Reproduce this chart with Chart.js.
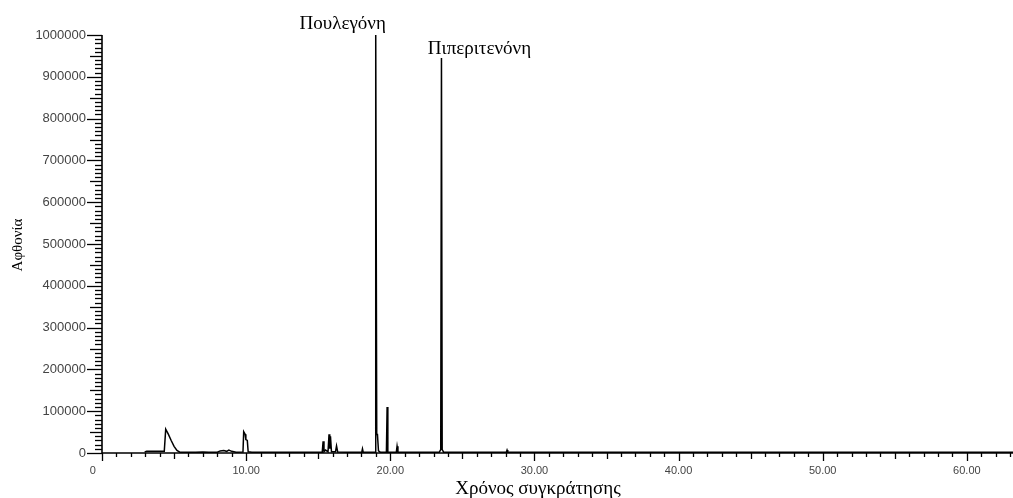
<!DOCTYPE html>
<html>
<head>
<meta charset="utf-8">
<script src="https://cdn.jsdelivr.net/npm/chart.js@4.4.0/dist/chart.umd.min.js"></script>
<style>
  html, body { margin: 0; padding: 0; background: #fff; }
  #wrap { width: 1013px; height: 498px; position: relative; }
</style>
</head>
<body>
<div id="wrap"><canvas id="c" width="1013" height="498"></canvas></div>
<script>
// Retention time (min) of each trace vertex
const times = [
  2.96, 3.1, 4.32, 4.35, 4.42, 4.6, 4.8, 5.0, 5.2, 5.4,
  6.5, 7.0, 7.4, 8.0, 8.2, 8.45, 8.65, 8.8, 9.0, 9.3,
  9.78, 9.83, 9.93, 9.98, 10.08, 10.14, 10.4,
  15.28, 15.34, 15.4, 15.5, 15.68, 15.75, 15.8, 15.85, 15.92,
  16.2, 16.27, 16.35, 17.0, 18.02, 18.07, 18.12,
  18.94, 18.99, 19.06, 19.11, 19.18, 19.3,
  19.73, 19.78, 19.83, 20.42, 20.47, 20.53,
  23.4, 23.5, 23.55, 23.6, 23.7,
  28.05, 28.1, 28.15, 63.2
];
// Abundance at each vertex
const abundance = [
  2500, 4000, 4000, 4000, 57000, 45000, 30000, 16000, 6000, 2000,
  1500, 2500, 1500, 2000, 5000, 6000, 4000, 7000, 4000, 2000,
  2500, 51000, 45000, 32000, 30000, 3000, 2000,
  2000, 28000, 3000, 7000, 3000, 45000, 10000, 40000, 3000,
  3000, 17000, 2500, 2000, 2000, 10000, 2000,
  2000, 1000000, 44000, 44000, 5000, 2000,
  2000, 110000, 2000, 2000, 16000, 2000,
  2000, 8000, 945000, 8000, 2000,
  2000, 7000, 2000, 1500
];
// Axis tick labels
const xTickLabels = ['0      ', '10.00', '20.00', '30.00', '40.00', '50.00', '60.00'];
const yTickLabels = ['0', '100000', '200000', '300000', '400000', '500000', '600000', '700000', '800000', '900000', '1000000'];
// Named peaks
const peakNames = ['Πουλεγόνη', 'Πιπεριτενόνη'];
const peakTimes = [18.99, 23.55];
const peakValues = [1000000, 945000];
const xTitle = 'Χρόνος συγκράτησης';
const yTitle = 'Αφθονία';

const points = times.map((t, i) => ({ x: t, y: abundance[i] }));

const decor = {
  id: 'decor',
  afterDraw(chart) {
    const ctx = chart.ctx;
    const xs = chart.scales.x, ys = chart.scales.y;
    const x0 = xs.left, y0 = ys.bottom;
    ctx.save();
    ctx.strokeStyle = '#000';
    ctx.lineWidth = 1.3;
    // y tick marks
    for (let v = 0; v <= 1000000; v += 10000) {
      const y = Math.round(ys.getPixelForValue(v)) + 0.5;
      const len = v % 100000 === 0 ? 15 : (v % 50000 === 0 ? 12 : 7);
      ctx.beginPath(); ctx.moveTo(x0 - len, y); ctx.lineTo(x0, y); ctx.stroke();
    }
    // x tick marks
    for (let t = 0; t <= 63; t += 1) {
      const x = Math.round(xs.getPixelForValue(t)) + 0.5;
      const len = t % 10 === 0 ? 8 : (t % 5 === 0 ? 6 : 4);
      ctx.beginPath(); ctx.moveTo(x, y0); ctx.lineTo(x, y0 + len); ctx.stroke();
    }
    // axis lines
    ctx.lineWidth = 1.6;
    ctx.beginPath(); ctx.moveTo(x0, ys.top); ctx.lineTo(x0, y0); ctx.lineTo(xs.right, y0); ctx.stroke();
    // peak labels
    ctx.fillStyle = '#000';
    ctx.font = '19px "Liberation Serif", "DejaVu Serif", serif';
    ctx.textAlign = 'center';
    ctx.textBaseline = 'middle';
    const offs = [-33, 38];
    const dy = [-11, -9];
    peakNames.forEach((n, i) => {
      const px = xs.getPixelForValue(peakTimes[i]) + offs[i];
      const py = ys.getPixelForValue(peakValues[i]) + dy[i];
      ctx.fillText(n, px, py);
    });
    // axis titles
    ctx.font = '19px "Liberation Serif", "DejaVu Serif", serif';
    ctx.fillText(xTitle, 538, 489);
    ctx.save();
    ctx.translate(18, 245);
    ctx.rotate(-Math.PI / 2);
    ctx.font = '15px "Liberation Serif", "DejaVu Serif", serif';
    ctx.fillText(yTitle, 0, 0);
    ctx.restore();
    ctx.restore();
  }
};

new Chart(document.getElementById('c'), {
  type: 'line',
  data: {
    datasets: [{
      data: points,
      borderColor: '#000',
      borderWidth: 1.5,
      pointRadius: 0,
      tension: 0,
      fill: false
    }]
  },
  options: {
    responsive: false,
    animation: false,
    parsing: false,
    layout: { padding: { top: 35, right: 0, left: 0, bottom: 0 } },
    plugins: { legend: { display: false }, tooltip: { enabled: false } },
    scales: {
      x: {
        type: 'linear', min: 0, max: 63.2,
        afterFit(s) { s.height = 45; s.paddingRight = 0; s.paddingLeft = 0; },
        grid: { display: false, drawTicks: false },
        border: { display: false },
        ticks: {
          stepSize: 1, autoSkip: false, maxRotation: 0, padding: 11,
          color: '#444',
          font: { family: '"Liberation Sans", Arial, sans-serif', size: 11 },
          callback: (v) => (v % 10 === 0 ? xTickLabels[v / 10] : '')
        }
      },
      y: {
        type: 'linear', min: 0, max: 1000000,
        afterFit(s) { s.width = 102; },
        grid: { display: false, drawTicks: false },
        border: { display: false },
        ticks: {
          stepSize: 10000, autoSkip: false, padding: 16,
          color: '#444',
          font: { family: '"Liberation Sans", Arial, sans-serif', size: 13 },
          callback: (v) => (v % 100000 === 0 ? yTickLabels[v / 100000] : '')
        }
      }
    }
  },
  plugins: [decor]
});
</script>
</body>
</html>
